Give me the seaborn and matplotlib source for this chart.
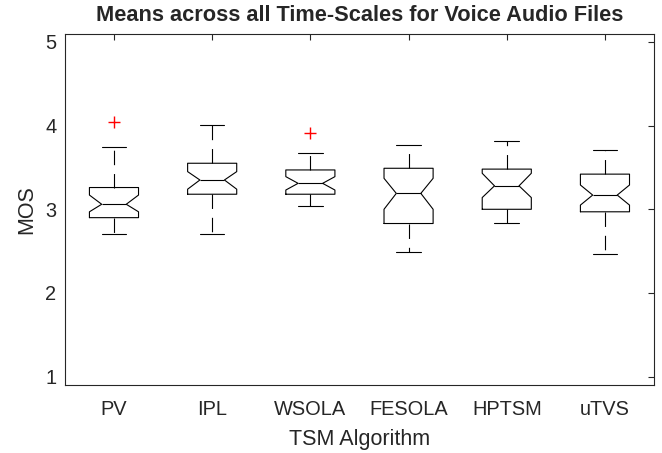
import matplotlib
matplotlib.use("Agg")
import matplotlib.pyplot as plt
import seaborn as sns

sns.set_style("white")
plt.rcParams['font.family'] = ['Liberation Sans', 'DejaVu Sans']

# Nilai statistik boxplot yang dibaca dari gambar
algoritma = ["PV", "IPL", "WSOLA", "FESOLA", "HPTSM", "uTVS"]
whis_bawah = [2.70, 2.71, 3.04, 2.49, 2.84, 2.47]
q1 = [2.90, 3.18, 3.18, 2.83, 3.00, 2.97]
median = [3.06, 3.35, 3.31, 3.19, 3.28, 3.17]
q3 = [3.26, 3.55, 3.47, 3.49, 3.48, 3.42]
whis_atas = [3.75, 4.01, 3.67, 3.77, 3.81, 3.71]
notch_bawah = [2.97, 3.24, 3.23, 3.00, 3.14, 3.05]
notch_atas = [3.17, 3.45, 3.39, 3.37, 3.43, 3.29]
outlier = [[4.04], [], [3.91], [], [], []]

stats = []
for i, nama in enumerate(algoritma):
    stats.append({
        'label': nama, 'med': median[i], 'q1': q1[i], 'q3': q3[i],
        'whislo': whis_bawah[i], 'whishi': whis_atas[i],
        'cilo': notch_bawah[i], 'cihi': notch_atas[i], 'fliers': outlier[i],
    })

fig = plt.figure(figsize=(6.62, 4.53), dpi=100)
ax = fig.add_axes([0.098, 0.150, 0.890, 0.776])

garis = '#000000'
ax.bxp(stats, shownotches=True, widths=0.5, showfliers=True,
       boxprops=dict(color=garis, linewidth=0.8),
       medianprops=dict(color=garis, linewidth=0.8),
       whiskerprops=dict(color=garis, linewidth=0.8, linestyle=(0, (13, 8))),
       capprops=dict(color=garis, linewidth=0.8),
       flierprops=dict(marker='+', markeredgecolor='red', markersize=9,
                       markeredgewidth=1.0, linestyle='none'))

ax.set_xlim(0.5, 6.5)
ax.set_ylim(0.9, 5.1)
ax.set_yticks([1, 2, 3, 4, 5])
ax.set_xticks(range(1, 7))
ax.set_xticklabels(algoritma)

for s in ax.spines.values():
    s.set_color('#262626')
    s.set_linewidth(0.8)
ax.tick_params(direction='in', length=4, width=0.8, color='#262626',
               top=True, right=True, labelsize=14.4, labelcolor='#262626')
ax.tick_params(axis='x', pad=11)
ax.tick_params(axis='y', pad=6)

ax.set_title("Means across all Time-Scales for Voice Audio Files",
             fontsize=15.7, fontweight='bold', pad=9)
ax.set_xlabel("TSM Algorithm", fontsize=15.5, color='#262626', labelpad=7)
ax.set_ylabel("MOS", fontsize=15.5, color='#262626', labelpad=6)

fig.savefig("out.png", dpi=100)
